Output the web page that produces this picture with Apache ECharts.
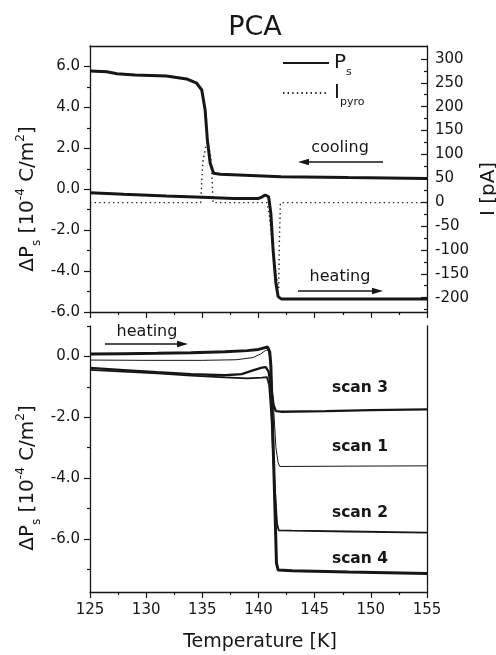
<!DOCTYPE html>
<html><head><meta charset="utf-8">
<script src="https://cdn.jsdelivr.net/npm/echarts@6/dist/echarts.min.js"></script>
<style>html,body{margin:0;padding:0;background:#fff}#c{width:496px;height:655px}</style>
</head><body><div id="c"></div>
<script>
// ---------- data ----------
const coolT = [125, 126.5, 127.4, 129, 131.8, 133.6, 134.5, 134.95, 135.25, 135.45, 135.7, 136.0, 136.6, 142, 148, 155];
const coolP = [5.78, 5.74, 5.64, 5.58, 5.53, 5.39, 5.18, 4.85, 3.87, 2.4, 1.27, 0.78, 0.73, 0.61, 0.57, 0.53];
const heatT = [125, 128, 131.8, 135, 137.8, 140.0, 140.3, 140.6, 140.9, 141.1, 141.3, 141.55, 141.75, 142.05, 148, 155];
const heatP = [-0.17, -0.25, -0.33, -0.39, -0.45, -0.45, -0.38, -0.28, -0.37, -1.18, -2.97, -4.6, -5.25, -5.37, -5.37, -5.37];
const pyroT = [125, 134.85, 134.95, 135.05, 135.3, 135.5, 135.75, 135.85, 135.95, 140.75, 140.95, 141.15, 141.35, 141.55, 141.7, 141.8, 141.85, 141.95, 155];
const pyroI = [-1, -1, 45, 85, 115, 125, 95, 60, -1, -1, -25, -70, -115, -150, -170, -180, -90, -1, -1];

const scan1T = [125, 130, 135, 138, 139.5, 140.2, 140.6, 140.85, 141.05, 141.3, 141.55, 141.75, 141.9, 143, 148, 155];
const scan1P = [-0.12, -0.13, -0.13, -0.11, -0.04, 0.08, 0.19, 0.22, -0.1, -1.4, -3.0, -3.5, -3.62, -3.62, -3.61, -3.6];
const scan2T = [125, 128, 131, 134, 137, 139, 140.3, 140.75, 140.95, 141.15, 141.4, 141.65, 141.8, 143, 148, 155];
const scan2P = [-0.44, -0.5, -0.56, -0.63, -0.69, -0.72, -0.7, -0.68, -0.95, -2.0, -4.0, -5.5, -5.72, -5.73, -5.76, -5.8];
const scan3T = [125, 128, 131, 134, 137, 138.5, 139.5, 140.3, 140.65, 140.9, 141.1, 141.35, 141.55, 142, 146, 150, 155];
const scan3P = [-0.38, -0.45, -0.52, -0.58, -0.62, -0.58, -0.46, -0.37, -0.35, -0.5, -1.0, -1.6, -1.8, -1.82, -1.8, -1.77, -1.74];
const scan4T = [125, 128, 131, 134, 137, 139, 140, 140.5, 140.8, 141.0, 141.1, 141.35, 141.6, 141.75, 143, 148, 155];
const scan4P = [0.08, 0.09, 0.10, 0.12, 0.15, 0.19, 0.23, 0.28, 0.31, 0.15, -0.3, -3.5, -6.8, -7.03, -7.05, -7.09, -7.14];

const xMajor = [125, 130, 135, 140, 145, 150, 155];
const xMinor = [127.5, 132.5, 137.5, 142.5, 147.5, 152.5];
const topLeftMajor = [-6, -4, -2, 0, 2, 4, 6];
const topLeftMinor = [-5, -3, -1, 1, 3, 5];
const rightMajor = [-200, -150, -100, -50, 0, 50, 100, 150, 200, 250, 300];
const rightMinor = [-225, -175, -125, -75, -25, 25, 75, 125, 175, 225, 275];
const botLeftMajor = [0, -2, -4, -6];
const botLeftMinor = [1, -1, -3, -5, -7];
const scanLabels = ['scan 3', 'scan 1', 'scan 2', 'scan 4'];

// ---------- chart ----------
const FONT = 'DejaVu Sans';
const INK = '#161616';
const zip = (a, b) => a.map((v, i) => [v, b[i]]);
const chart = echarts.init(document.getElementById('c'), null, {renderer: 'canvas'});

const lineAx = {show: true, onZero: false, lineStyle: {color: INK, width: 1.3}};
function valAxis(extra) {
  return Object.assign({
    type: 'value', splitLine: {show: false}, axisLine: {show: false, onZero: false},
    axisTick: {show: false}, axisLabel: {show: false}
  }, extra);
}
function ticks(vals, len, inside) {
  return {show: true, customValues: vals, length: len, inside: !!inside, lineStyle: {color: INK, width: 1.2}};
}

const option = {
  animation: false,
  backgroundColor: '#fff',
  textStyle: {fontFamily: FONT, color: INK},
  grid: [
    {left: 90, top: 46, width: 337, height: 266, outerBoundsMode: 'none', containLabel: false},
    {left: 90, top: 326, width: 337, height: 266, outerBoundsMode: 'none', containLabel: false}
  ],
  xAxis: [
    valAxis({gridIndex: 0, min: 125, max: 155, position: 'bottom', axisLine: lineAx, axisTick: ticks(xMajor, 6)}),
    valAxis({gridIndex: 0, min: 125, max: 155, position: 'bottom', axisTick: ticks(xMinor, 3)}),
    valAxis({gridIndex: 0, min: 125, max: 155, position: 'top', axisLine: lineAx}),
    valAxis({gridIndex: 1, min: 125, max: 155, position: 'bottom', axisLine: lineAx, axisTick: ticks(xMajor, 6),
      axisLabel: {show: true, customValues: xMajor, margin: 11, fontSize: 15, fontFamily: FONT, color: INK}}),
    valAxis({gridIndex: 1, min: 125, max: 155, position: 'bottom', axisTick: ticks(xMinor, 3)})
  ],
  yAxis: [
    valAxis({gridIndex: 0, min: -6, max: 7, position: 'left', axisLine: lineAx, axisTick: ticks(topLeftMajor, 6),
      axisLabel: {show: true, customValues: topLeftMajor, margin: 10, fontSize: 15, fontFamily: FONT, color: INK,
        formatter: v => v.toFixed(1)}}),
    valAxis({gridIndex: 0, min: -6, max: 7, position: 'left', axisTick: ticks(topLeftMinor, 3)}),
    valAxis({gridIndex: 0, min: -230, max: 327, position: 'right', axisLine: lineAx, axisTick: ticks(rightMajor, 6, true),
      axisLabel: {show: true, customValues: rightMajor, margin: 8, fontSize: 15, fontFamily: FONT, color: INK}}),
    valAxis({gridIndex: 0, min: -230, max: 327, position: 'right', axisTick: ticks(rightMinor, 3, true)}),
    valAxis({gridIndex: 1, min: -7.75, max: 1, position: 'left', axisLine: lineAx, axisTick: ticks(botLeftMajor, 6),
      axisLabel: {show: true, customValues: botLeftMajor, margin: 10, fontSize: 15, fontFamily: FONT, color: INK,
        formatter: v => v.toFixed(1)}}),
    valAxis({gridIndex: 1, min: -7.75, max: 1, position: 'left', axisTick: ticks(botLeftMinor, 3)}),
    valAxis({gridIndex: 1, min: -7.75, max: 1, position: 'right', axisLine: lineAx})
  ],
  legend: {
    orient: 'vertical', left: 277, top: 48, itemWidth: 46, itemHeight: 14, itemGap: 5,
    selectedMode: false,
    itemStyle: {opacity: 0},
    data: [{name: 'Ps'}, {name: 'Ipyro'}],
    formatter: n => n === 'Ps' ? '{m|P}{sub|s}' : '{m|I}{sub|pyro}',
    textStyle: {
      color: INK,
      rich: {
        m: {fontSize: 20, fontFamily: FONT, lineHeight: 20, verticalAlign: 'top', color: INK},
        sub: {fontSize: 11, fontFamily: FONT, lineHeight: 11, verticalAlign: 'top', padding: [14, 0, 0, 0], color: INK}
      }
    }
  },
  series: [
    {name: 'Ipyro', type: 'line', xAxisIndex: 0, yAxisIndex: 2, data: zip(pyroT, pyroI), symbol: 'none',
      itemStyle: {color: INK}, lineStyle: {color: '#222', width: 1.4, type: [1.4, 3.2]}, z: 2},
    {name: 'Ps', type: 'line', xAxisIndex: 0, yAxisIndex: 0, data: zip(coolT, coolP), symbol: 'none',
      itemStyle: {color: INK}, lineStyle: {color: INK, width: 3}, z: 3},
    {name: 'Ps', type: 'line', xAxisIndex: 0, yAxisIndex: 0, data: zip(heatT, heatP), symbol: 'none',
      itemStyle: {color: INK}, lineStyle: {color: INK, width: 3}, z: 3},
    {name: 'scan 1', type: 'line', xAxisIndex: 3, yAxisIndex: 4, data: zip(scan1T, scan1P), symbol: 'none',
      lineStyle: {color: INK, width: 1}},
    {name: 'scan 2', type: 'line', xAxisIndex: 3, yAxisIndex: 4, data: zip(scan2T, scan2P), symbol: 'none',
      lineStyle: {color: INK, width: 1.8}},
    {name: 'scan 3', type: 'line', xAxisIndex: 3, yAxisIndex: 4, data: zip(scan3T, scan3P), symbol: 'none',
      lineStyle: {color: INK, width: 2.3}},
    {name: 'scan 4', type: 'line', xAxisIndex: 3, yAxisIndex: 4, data: zip(scan4T, scan4P), symbol: 'none',
      lineStyle: {color: INK, width: 3}}
  ]
};
chart.setOption(option);

// ---------- annotations ----------
function txt(x, y, text, size, opts) {
  return Object.assign({type: 'text', x: x, y: y, silent: true,
    style: Object.assign({text: text, fill: INK, fontFamily: FONT, fontSize: size, align: 'center', verticalAlign: 'middle'}, (opts && opts.style) || {})},
    (opts && opts.el) || {});
}
function arrow(x1, x2, y) {
  const d = x2 > x1 ? 1 : -1;
  return {type: 'group', silent: true, children: [
    {type: 'line', shape: {x1: x1, y1: y, x2: x2 - d * 8, y2: y}, style: {stroke: INK, lineWidth: 1.5}},
    {type: 'polygon', shape: {points: [[x2, y], [x2 - d * 11, y - 3.2], [x2 - d * 11, y + 3.2]]}, style: {fill: INK}}
  ]};
}
const yTitleRich = {
  m: {fontSize: 20, fontFamily: FONT, lineHeight: 20, verticalAlign: 'top', padding: [6, 0, 0, 0], fill: INK},
  sup: {fontSize: 12, fontFamily: FONT, lineHeight: 12, verticalAlign: 'top', padding: [3, 0, 0, 0], fill: INK},
  sub: {fontSize: 12, fontFamily: FONT, lineHeight: 12, verticalAlign: 'top', padding: [19, 0, 0, 0], fill: INK}
};
const yTitle = '{m|ΔP}{sub|s}{m| [10}{sup|-4}{m| C/m}{sup|2}{m|]}';

const ss = scanLabels;
chart.setOption({graphic: [
  txt(255, 28, 'PCA', 27),
  txt(22, 199, yTitle, 20, {style: {rich: yTitleRich}, el: {rotation: Math.PI / 2}}),
  txt(22, 478, yTitle, 20, {style: {rich: yTitleRich}, el: {rotation: Math.PI / 2}}),
  txt(489, 189, 'I [pA]', 20, {el: {rotation: Math.PI / 2}}),
  txt(260, 642, 'Temperature [K]', 19),
  txt(340, 148, 'cooling', 16),
  arrow(383, 298, 162),
  txt(340, 277, 'heating', 16),
  arrow(298, 383, 291),
  txt(147, 332, 'heating', 16),
  arrow(105, 188, 344),
  txt(360, 388, ss[0], 15.5, {style: {fontWeight: 'bold'}}),
  txt(360, 447, ss[1], 15.5, {style: {fontWeight: 'bold'}}),
  txt(360, 513, ss[2], 15.5, {style: {fontWeight: 'bold'}}),
  txt(360, 559, ss[3], 15.5, {style: {fontWeight: 'bold'}})
]});
</script></body></html>
